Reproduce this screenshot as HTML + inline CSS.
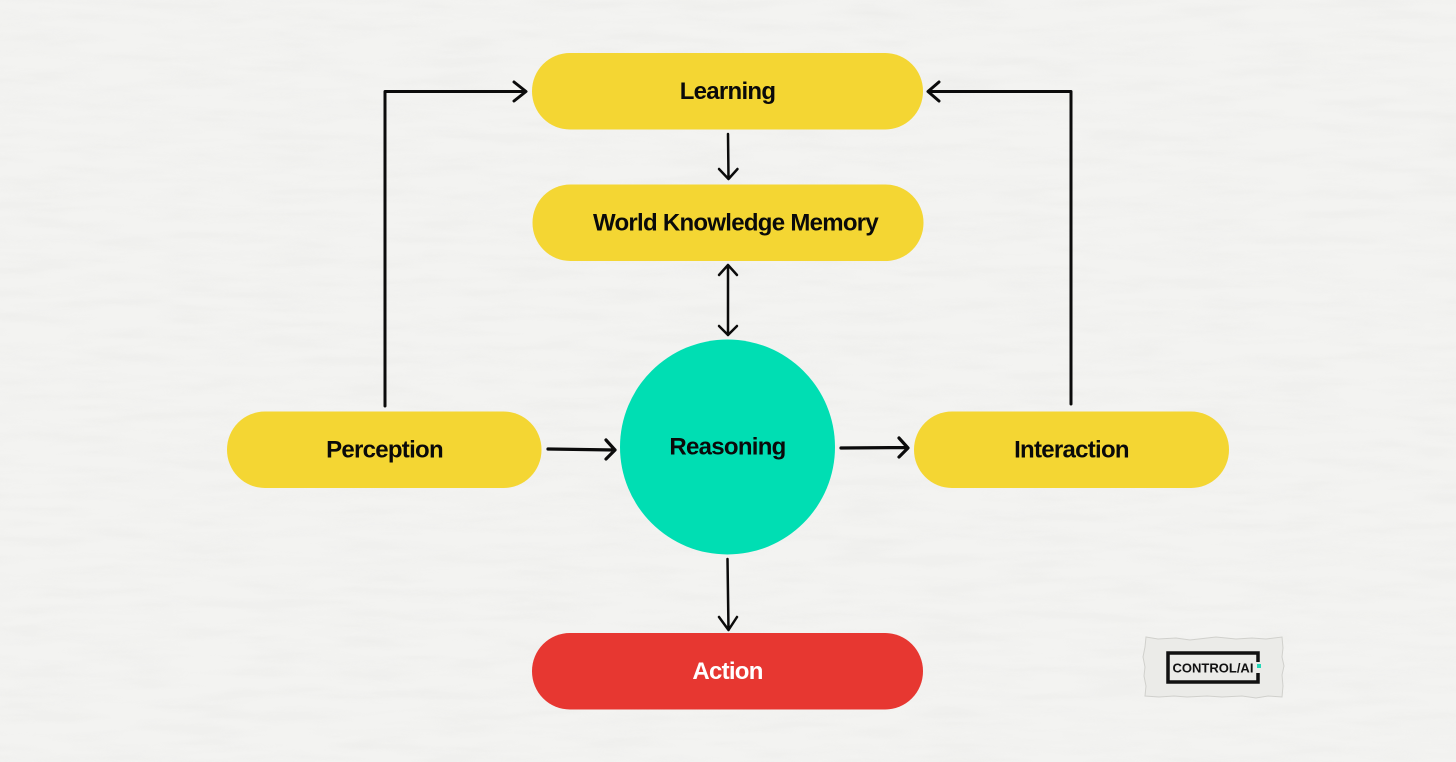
<!DOCTYPE html>
<html><head><meta charset="utf-8"><style>
html,body{margin:0;padding:0;background:#f3f3f1}
svg{display:block}
text{font-family:"Liberation Sans",sans-serif;font-weight:700;text-anchor:middle;font-size:24px;letter-spacing:-.72px;fill:#0a0a0a}
</style></head><body>
<svg width="1456" height="762" viewBox="0 0 1456 762" xmlns="http://www.w3.org/2000/svg">
<defs>
<filter id="paper" x="0" y="0" width="100%" height="100%">
<feTurbulence type="fractalNoise" baseFrequency="0.012 0.09" numOctaves="3" seed="7"/>
<feColorMatrix values="0 0 0 0 .55  0 0 0 0 .55  0 0 0 0 .53  .35 .35 0 0 -.3"/>
</filter>
</defs>
<rect width="1456" height="762" fill="#f3f3f1"/>
<rect width="1456" height="762" filter="url(#paper)" opacity=".35"/>
<rect x="532" y="53" width="391" height="76.500" rx="38" fill="#f4d633"/>
<rect x="532.500" y="184.500" width="391" height="76.500" rx="38" fill="#f4d633"/>
<rect x="227" y="411.500" width="314.500" height="76.500" rx="38" fill="#f4d633"/>
<rect x="914" y="411.500" width="315" height="76.500" rx="38" fill="#f4d633"/>
<rect x="532" y="633" width="391" height="76.500" rx="38" fill="#e73731"/>
<circle cx="727.500" cy="447" r="107.500" fill="#00deb3"/>
<text x="727.500" y="99">Learning</text>
<text x="735.500" y="230.500">World Knowledge Memory</text>
<text x="384.500" y="457.500">Perception</text>
<text x="727.500" y="454.500">Reasoning</text>
<text x="1071.500" y="457.500">Interaction</text>
<text x="727.500" y="679" style="fill:#fff">Action</text>
<g fill="none" stroke="#0b0b0b" stroke-linecap="round" stroke-linejoin="round">
<path stroke-width="3" d="M385 406V91.500H525M514 82l12 9.500-12 9.500"/>
<path stroke-width="3" d="M1071 404V91.500H929M939 82l-11 9.500 11 9.500"/>
<path stroke-width="2.500" d="M728 134l.5 44M719 169l9.500 10 9-10"/>
<path stroke-width="2.500" d="M728 266V335M719 275l9-10 9 10M719 326l9 9 9-9"/>
<path stroke-width="3.200" d="M548 449l67 1M606 440l9 10-9 9"/>
<path stroke-width="3.200" d="M841 448l66-.500M899 438l9 10-9 9"/>
<path stroke-width="2.500" d="M727.500 559l1 71M719 617l9.500 13 8.500-13"/>
</g>
<path d="M1146 637l12 2 18-1 14 2 26-3 20 2 16-1 14 1 16-2 1 11-1 9 2 9-2 9 1 11-1 11-14-1-12 2-14-2-20 1-15-1-20 1-13-1-15 1-14-1 1-10-2-10 1-9-2-10 2-10z" fill="#ebebe8" stroke="#d0d0cc"/>
<path d="M1258 662v-9h-90v29h90v-9" fill="none" stroke="#111" stroke-width="3.500"/>
<rect x="1257" y="664" width="4" height="4" fill="#24d6b6"/>
<text x="1213" y="672.500" style="font-size:13px;letter-spacing:0;fill:#111">CONTROL/AI</text>
</svg>
</body></html>
